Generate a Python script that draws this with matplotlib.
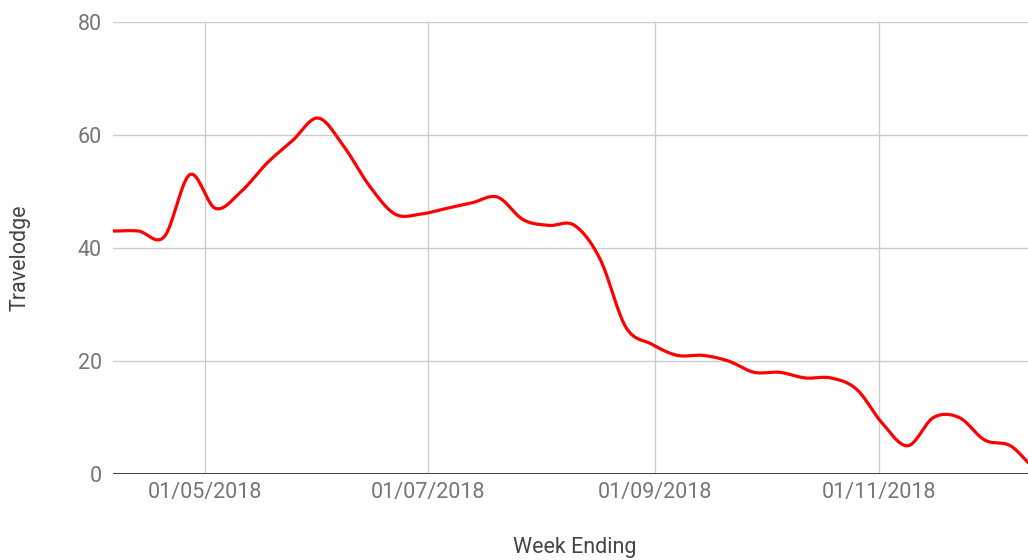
import numpy as np
import pandas as pd
import matplotlib
matplotlib.use("Agg")
import matplotlib.pyplot as plt
import matplotlib.dates as mdates

plt.rcParams['font.family'] = ['Roboto', 'DejaVu Sans']

# weekly values, week ending Friday
week_ending = pd.date_range("2018-04-06", periods=37, freq="7D")
travelodge = [43, 43, 42, 53, 47, 50, 55, 59, 63, 58, 51, 46, 46, 47, 48, 49,
              45, 44, 44, 38, 26, 23, 21, 21, 20, 18, 18, 17, 17, 15, 9, 5,
              10, 10, 6, 5, 1]
y_ticks = [0, 20, 40, 60, 80]
x_ticks = ["2018-05-01", "2018-07-01", "2018-09-01", "2018-11-01"]


def smooth(x, y, n=20):
    # catmull-rom through the points, like the chart's curved line
    x = np.asarray(x, float)
    y = np.asarray(y, float)
    px = np.concatenate([[2 * x[0] - x[1]], x, [2 * x[-1] - x[-2]]])
    py = np.concatenate([[y[0]], y, [y[-1]]])
    xs, ys = [], []
    t = np.linspace(0, 1, n, endpoint=False)
    for i in range(1, len(px) - 2):
        for p, out in ((px, xs), (py, ys)):
            p0, p1, p2, p3 = p[i - 1], p[i], p[i + 1], p[i + 2]
            out.append(0.5 * ((2 * p1) + (-p0 + p2) * t
                              + (2 * p0 - 5 * p1 + 4 * p2 - p3) * t ** 2
                              + (-p0 + 3 * p1 - 3 * p2 + p3) * t ** 3))
    xs.append([x[-1]])
    ys.append([y[-1]])
    return np.concatenate(xs), np.concatenate(ys)


xnum = mdates.date2num(week_ending)
sx, sy = smooth(xnum, travelodge)

fig = plt.figure(figsize=(10.28, 5.6), dpi=100)
ax = fig.add_axes([113 / 1028, 86 / 560, 915 / 1028, 452 / 560])

ax.plot(sx, sy, color="#ff0000", lw=2.3, solid_capstyle="round", zorder=3)

ax.set_ylim(0, 80)
ax.set_yticks(y_ticks)
ax.set_xlim(xnum[0], xnum[0] + 915 / 3.663)
ax.set_xticks(mdates.date2num(pd.to_datetime(x_ticks)))
ax.xaxis.set_major_formatter(mdates.DateFormatter("%d/%m/%Y"))

ax.grid(True, color="#cccccc", lw=1)
ax.set_axisbelow(True)
for s in ax.spines.values():
    s.set_visible(False)
ax.axhline(0, color="#333333", lw=1.3, zorder=2)
ax.tick_params(length=0, labelsize=15.5, labelcolor="#757575")
ax.tick_params(axis="x", pad=6)
ax.tick_params(axis="y", pad=8)

fig.text(575 / 1028, 1 - 548 / 560, "Week Ending", fontsize=15.5,
         color="#444444", ha="center", va="center")
fig.text(20 / 1028, 1 - 258 / 560, "Travelodge", fontsize=15.5,
         color="#444444", ha="center", va="center", rotation=90)

fig.savefig("out.png", dpi=100)
